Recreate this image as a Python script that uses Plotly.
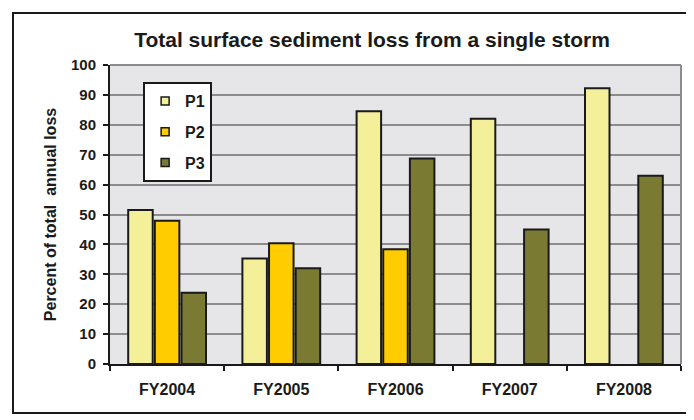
import plotly.graph_objs as go

years = ["FY2004", "FY2005", "FY2006", "FY2007", "FY2008"]
p1 = [51.5, 35.3, 84.5, 82.0, 92.2]
p2 = [47.9, 40.4, 38.4, None, None]
p3 = [23.8, 32.0, 68.7, 45.0, 63.0]

series = [("P1", p1, "#F4F09A"), ("P2", p2, "#FFCC00"), ("P3", p3, "#7A7A32")]

FONT = "Arial, Liberation Sans, sans-serif"
INK = "#1a1a1a"

# page body has an 8px margin, so the figure is sized/placed to compensate
W, H = 686, 412
L, R, T, B = 102, 13, 57, 56
pw, ph = W - L - R, H - T - B

traces = []
for name, vals, col in series:
    traces.append(go.Bar(name=name, x=years, y=vals, showlegend=False,
                         marker=dict(color=col, line=dict(color=INK, width=2))))
# small square legend keys
for name, vals, col in series:
    traces.append(go.Scatter(name=name, x=[None], y=[None], mode="markers",
                             legendgroup=name,
                             marker=dict(symbol="square", size=8, color=col,
                                         line=dict(color=INK, width=1.5))))

fig = go.Figure(
    data=traces,
    layout=go.Layout(
        width=W, height=H,
        paper_bgcolor="white",
        plot_bgcolor="#E6E6E8",
        margin=dict(l=L, r=R, t=T, b=B),
        barmode="group", bargap=0.3, bargroupgap=0.08,
        font=dict(family=FONT, color=INK),
        title=dict(text="<b>Total surface sediment loss from a single storm</b>",
                   x=364 / W, xanchor="center", y=1 - 32 / H, yanchor="middle",
                   font=dict(size=21)),
        xaxis=dict(showline=True, linecolor=INK, linewidth=2,
                   ticks="outside", tickson="boundaries", ticklen=5,
                   tickwidth=2, tickcolor=INK, showgrid=False,
                   ticklabelstandoff=10,
                   tickfont=dict(size=16, weight="bold")),
        yaxis=dict(range=[0, 100], dtick=10, showline=True,
                   linecolor=INK, linewidth=2, ticks="outside",
                   ticklen=5, tickwidth=2, tickcolor=INK,
                   gridcolor="#8C8C8C", gridwidth=2, zeroline=False,
                   ticklabelstandoff=4,
                   tickfont=dict(size=15, weight="bold"),
                   title=dict(text="<b>Percent of total  annual loss</b>",
                              font=dict(size=16), standoff=10)),
        legend=dict(x=0.058, y=0.943, xanchor="left", yanchor="top",
                    bgcolor="white", bordercolor=INK, borderwidth=2,
                    tracegroupgap=7, itemwidth=30,
                    font=dict(size=16, weight="bold")),
        showlegend=True,
    )
)

# gray frame on the top and right of the plot area
fig.add_shape(type="line", xref="paper", yref="paper", x0=0, x1=1, y0=1, y1=1,
              line=dict(color="#8C8C8C", width=2))
fig.add_shape(type="line", xref="paper", yref="paper", x0=1, x1=1, y0=0, y1=1,
              line=dict(color="#8C8C8C", width=2))
# outer chart border
fig.add_shape(type="rect", xref="paper", yref="paper",
              x0=(5 - L) / pw, x1=(679 - L) / pw,
              y0=(H - B - 405) / ph, y1=(H - B - 5) / ph,
              line=dict(color=INK, width=2))

fig.write_html("out.html")
